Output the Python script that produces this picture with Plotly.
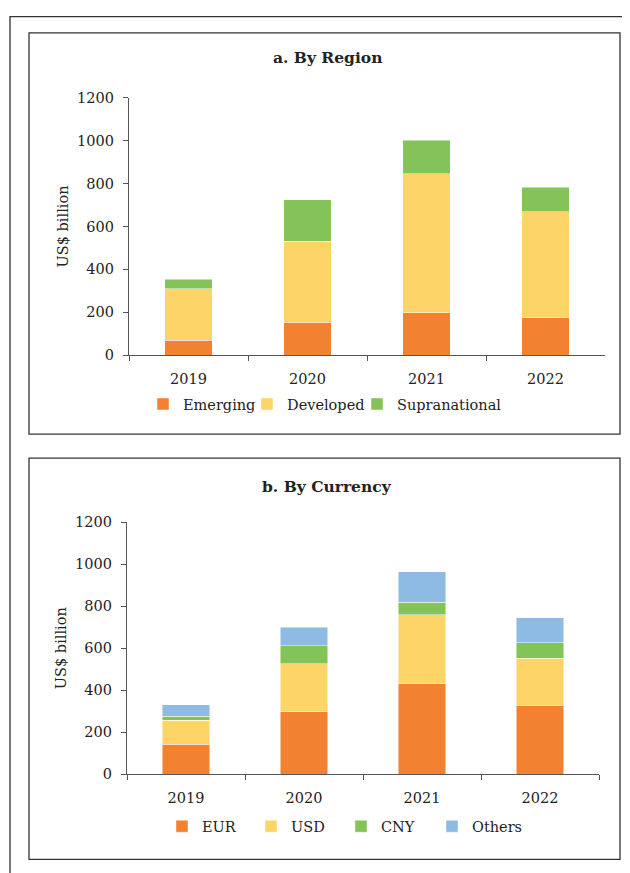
import plotly.graph_objects as go

# Page body keeps its default 8px margin; measured screen mapping:
# screen_x = page_x, screen_y ~ 8.3 + 0.981 * page_y  (page_y = 8 + figure_y)
OFF = 8
W, H = 622, 865

years = ["2019", "2020", "2021", "2022"]

# Panel a: By Region (US$ billion)
region_names = ["Emerging", "Developed", "Supranational"]
emerging = [70, 153, 197, 175]
developed = [240, 379, 648, 493]
supranational = [43, 192, 158, 115]

# Panel b: By Currency (US$ billion)
currency_names = ["EUR", "USD", "CNY", "Others"]
eur = [143, 298, 432, 327]
usd = [113, 229, 327, 225]
cny = [19, 84, 60, 75]
others = [55, 89, 144, 119]

y_ticks = [0, 200, 400, 600, 800, 1000, 1200]

colors = {
    "Emerging": "#F28131", "Developed": "#FDD467", "Supranational": "#84C357",
    "EUR": "#F28131", "USD": "#FDD467", "CNY": "#84C357", "Others": "#8DBBE3",
}

FONT = "DejaVu Serif"
TXT = "#222222"
AX = "#555555"

def px_x(p):
    return (p - OFF) / W

def px_y(p):
    page = (p - 8.3) / 0.981
    return min(1 - (page - OFF) / H, 1.0)

def clamp_y(v):
    return max(min(v, 1 - 0.7 / H), 0.7 / H)

# legend text x positions (screen px) per panel
legend_text_x_a = [179, 283, 393]
legend_text_x_b = [198, 287, 377, 468]

fig = go.Figure()

for i, (name, vals) in enumerate(zip(region_names, [emerging, developed, supranational])):
    fig.add_trace(go.Bar(
        x=years, y=vals, name=name, marker_color=colors[name],
        marker_line=dict(color="rgba(255,255,255,0.6)", width=0.8),
        width=0.4, xaxis="x", yaxis="y", legend="legend" if i == 0 else f"legend{i + 1}",
    ))

for j, (name, vals) in enumerate(zip(currency_names, [eur, usd, cny, others])):
    fig.add_trace(go.Bar(
        x=years, y=vals, name=name, marker_color=colors[name],
        marker_line=dict(color="rgba(255,255,255,0.6)", width=0.8),
        width=0.4, xaxis="x2", yaxis="y2", legend=f"legend{j + 4}",
    ))

xcommon = dict(
    type="category", showline=True, linecolor=AX, linewidth=1.3,
    ticks="outside", tickson="boundaries", ticklen=5, tickcolor=AX, tickwidth=1.3,
    tickfont=dict(family=FONT, size=14.5, color=TXT), showgrid=False, zeroline=False,
    ticklabelstandoff=10, fixedrange=True,
)
ycommon = dict(
    range=[0, 1200], tickvals=y_ticks, showline=True, linecolor=AX, linewidth=1.3,
    ticks="outside", ticklen=5, tickcolor=AX, tickwidth=1.3,
    tickfont=dict(family=FONT, size=14.5, color=TXT), showgrid=False, zeroline=False,
    ticklabelstandoff=6,
    title=dict(text="US$ billion", font=dict(family=FONT, size=14.5, color=TXT), standoff=4),
)

legend_font = dict(family=FONT, size=14.5, color=TXT)

def leg(text_x, row_y):
    return dict(orientation="h", x=px_x(text_x - 36), xanchor="left", y=px_y(row_y),
                yanchor="middle", font=legend_font, itemwidth=30,
                bgcolor="rgba(0,0,0,0)")

legends = {}
for i, tx in enumerate(legend_text_x_a):
    legends["legend" if i == 0 else f"legend{i + 1}"] = leg(tx, 404)
for j, tx in enumerate(legend_text_x_b):
    legends[f"legend{j + 4}"] = leg(tx, 826)

BOX_R = 620

fig.update_layout(
    width=W, height=H, margin=dict(l=0, r=0, t=0, b=0),
    paper_bgcolor="white", plot_bgcolor="white", barmode="stack",
    showlegend=True,
    xaxis=dict(domain=[px_x(129), px_x(605)], anchor="y", **xcommon),
    yaxis=dict(domain=[px_y(355), px_y(98)], anchor="x", **ycommon),
    xaxis2=dict(domain=[px_x(127), px_x(599)], anchor="y2", **xcommon),
    yaxis2=dict(domain=[px_y(774), px_y(522)], anchor="x2", **ycommon),
    annotations=[
        dict(text="<b>a. By Region</b>", x=px_x(327), y=px_y(58), xref="paper", yref="paper",
             showarrow=False, xanchor="center", yanchor="middle",
             font=dict(family=FONT, size=15.5, color=TXT)),
        dict(text="<b>b. By Currency</b>", x=px_x(327), y=px_y(486), xref="paper", yref="paper",
             showarrow=False, xanchor="center", yanchor="middle",
             font=dict(family=FONT, size=15.5, color=TXT)),
    ],
    shapes=[
        dict(type="rect", xref="paper", yref="paper", x0=px_x(10), x1=1.05, y0=-0.05, y1=1 - 0.7 / H,
             line=dict(color="#333333", width=1.3)),
        dict(type="rect", xref="paper", yref="paper", x0=px_x(29), x1=px_x(BOX_R),
             y0=clamp_y(px_y(434)), y1=clamp_y(px_y(33)),
             line=dict(color="#333333", width=1.3)),
        dict(type="rect", xref="paper", yref="paper", x0=px_x(29), x1=px_x(BOX_R),
             y0=clamp_y(px_y(859)), y1=clamp_y(px_y(458)),
             line=dict(color="#333333", width=1.3)),
    ],
    **legends,
)

fig.write_html("out.html")
